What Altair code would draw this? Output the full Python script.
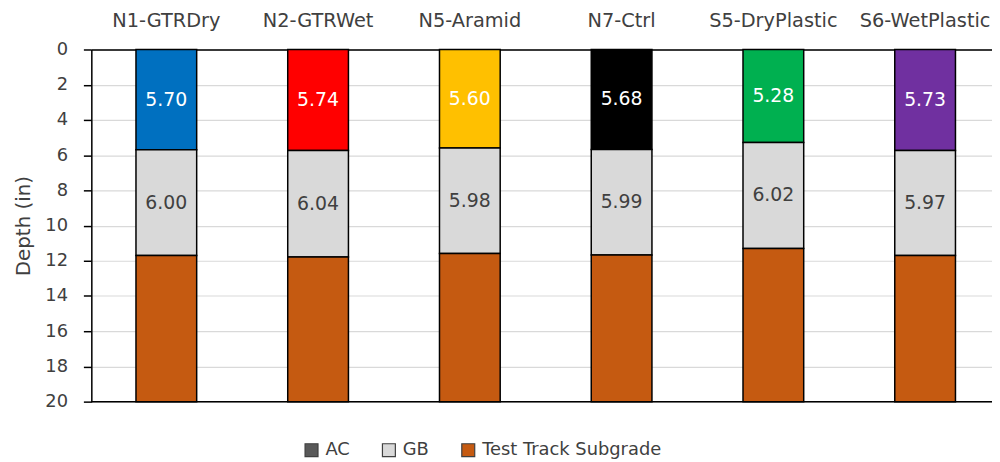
import altair as alt
import pandas as pd

sections = ["N1-GTRDry", "N2-GTRWet", "N5-Aramid", "N7-Ctrl", "S5-DryPlastic", "S6-WetPlastic"]
ac_thick = [5.70, 5.74, 5.60, 5.68, 5.28, 5.73]
gb_thick = [6.00, 6.04, 5.98, 5.99, 6.02, 5.97]
ac_colors = ["#0070C0", "#FF0000", "#FFC000", "#000000", "#00B050", "#7030A0"]
total_depth = 20
y_ticks = [0, 2, 4, 6, 8, 10, 12, 14, 16, 18, 20]
layers = ["AC", "GB", "Test Track Subgrade"]
legend_colors = ["#595959", "#D9D9D9", "#C55A11"]

rows = []
for s, a, g, c in zip(sections, ac_thick, gb_thick, ac_colors):
    rows.append(dict(section=s, layer="AC", top=0, bot=a, val=a, fill=c, tcolor="#FFFFFF", show=True))
    rows.append(dict(section=s, layer="GB", top=a, bot=a + g, val=g, fill="#D9D9D9", tcolor="#404040", show=True))
    rows.append(dict(section=s, layer="Test Track Subgrade", top=a + g, bot=total_depth,
                     val=total_depth - a - g, fill="#C55A11", tcolor="#404040", show=False))
df = pd.DataFrame(rows)

FONT = "DejaVu Sans"

xscale = alt.Scale(domain=sections, paddingInner=0.6, paddingOuter=0.2675, align=0.55)
xaxis = alt.Axis(orient="top", title=None, labelAngle=0, ticks=False, tickSize=0,
                 domainColor="black", domainWidth=1.5, labelFontSize=19.5,
                 labelColor="#404040", labelPadding=19, grid=False, labelFont=FONT,
                 labelLimit=0, labelOverlap=False)
yscale = alt.Scale(domain=[0, total_depth], reverse=True, nice=False)
yaxis = alt.Axis(title="Depth (in)", values=y_ticks, grid=True, gridColor="#D9D9D9",
                 gridWidth=1.2, domainColor="black", domainWidth=1.5, tickColor="black", tickWidth=1.5,
                 tickSize=8, labelPadding=16, labelFontSize=18, labelColor="#404040", labelFont=FONT,
                 labelOverlap=False,
                 titleFont=FONT, titleFontSize=20, titleFontWeight="normal", titleColor="#404040",
                 titlePadding=11)

def X():
    return alt.X("section:N", sort=sections, scale=xscale, axis=xaxis)

base = alt.Chart(df)

bars = base.mark_bar(stroke="black", strokeWidth=1.5).encode(
    x=X(),
    y=alt.Y("top:Q", scale=yscale, axis=yaxis),
    y2="bot:Q",
    fill=alt.Fill("fill:N", scale=None),
)

labels = base.transform_filter("datum.show").transform_calculate(
    mid="(datum.top + datum.bot) / 2",
    txt="format(datum.val, '.2f')",
).mark_text(font=FONT, fontSize=19, baseline="middle").encode(
    x=X(),
    y=alt.Y("mid:Q", scale=yscale, axis=yaxis),
    text="txt:N",
    color=alt.Color("tcolor:N", scale=None),
)

bottom_rule = alt.Chart(pd.DataFrame({"d": [total_depth]})).mark_rule(color="black", strokeWidth=1.5).encode(
    y=alt.Y("d:Q", scale=yscale, axis=yaxis)
)

legend_layer = base.transform_filter("false").mark_bar().encode(
    x=X(),
    y=alt.Y("top:Q", scale=yscale, axis=yaxis),
    color=alt.Color("layer:N", scale=alt.Scale(domain=layers, range=legend_colors),
                    legend=alt.Legend(title=None, orient="none", direction="horizontal",
                                      legendX=213, legendY=395, symbolType="square", symbolSize=170,
                                      symbolStrokeColor="#404040", symbolStrokeWidth=1.2,
                                      labelFontSize=18, labelFont=FONT, labelColor="#404040",
                                      labelLimit=0, columnPadding=30, labelOffset=5)),
)

chart = alt.layer(bars, labels, bottom_rule, legend_layer).properties(
    width=908, height=355,
    autosize=alt.AutoSizeParams(type="none"),
    padding={"left": 84, "top": 40, "right": 0, "bottom": 56},
).configure_view(stroke=None).configure(font=FONT)

chart.save("out.html", embed_options={"renderer": "svg", "actions": False})
